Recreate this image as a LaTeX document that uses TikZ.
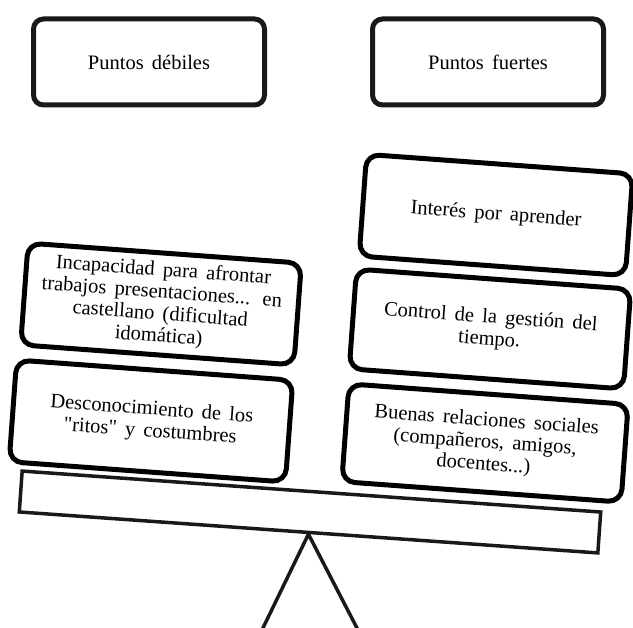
\documentclass[tikz,border=0pt]{standalone}
\usepackage{fontspec}
\setmainfont{Liberation Serif}[WordSpace=1.6]
\begin{document}
\begin{tikzpicture}[x=1pt,y=-1pt,
  headbox/.style={draw=black!90, line width=5pt, rounded corners=10pt, fill=white,
    minimum width=231pt, minimum height=86pt, inner sep=0pt,
    font=\fontsize{20.5}{22}\selectfont},
  card/.style={draw=black, line width=5pt, rounded corners=13pt, fill=white,
    rotate=-4.2, align=center, inner sep=0pt,
    font=\fontsize{20.5}{22}\selectfont},
  beamstyle/.style={draw=black!90, line width=3.5pt, fill=white, rotate=-4.05,
    minimum width=580pt, minimum height=41pt, inner sep=0pt},
  support/.style={draw=black!90, line width=3.5pt, line join=round}
]
\useasboundingbox (0,0) rectangle (633,628);
\clip (0,0) rectangle (633,628);

% header boxes
\node[headbox] (weak) at (149,62) {Puntos débiles};
\node[headbox] (strong) at (488,62) {Puntos fuertes};

% beam and support
\node[beamstyle] (beam) at (310,512) {};
\coordinate (baseL) at (261.5,631);
\coordinate (baseR) at (358.5,631);
\draw[support] (beam.south) -- (baseL) -- (baseR) -- cycle;

% weak points
\node[card, minimum width=274pt, minimum height=102pt] (w1) at (161,304)
  {Incapacidad para afrontar\\trabajos presentaciones...\hspace{0.6em}en\\castellano (dificultad\\idomática)};
\node[card, minimum width=277pt, minimum height=102pt] (w2) at (151,421)
  {Desconocimiento de los\\\textquotedbl ritos\textquotedbl{} y costumbres};

% strong points
\node[card, minimum width=267pt, minimum height=102pt] (s1) at (496,215)
  {Interés por aprender};
\node[card, minimum width=275pt, minimum height=100pt] (s2) at (490,329)
  {Control de la gestión del\\tiempo.};
\node[card, minimum width=280pt, minimum height=98pt] (s3) at (485,443)
  {Buenas relaciones sociales\\(compañeros, amigos,\\docentes...)};
\end{tikzpicture}
\end{document}
